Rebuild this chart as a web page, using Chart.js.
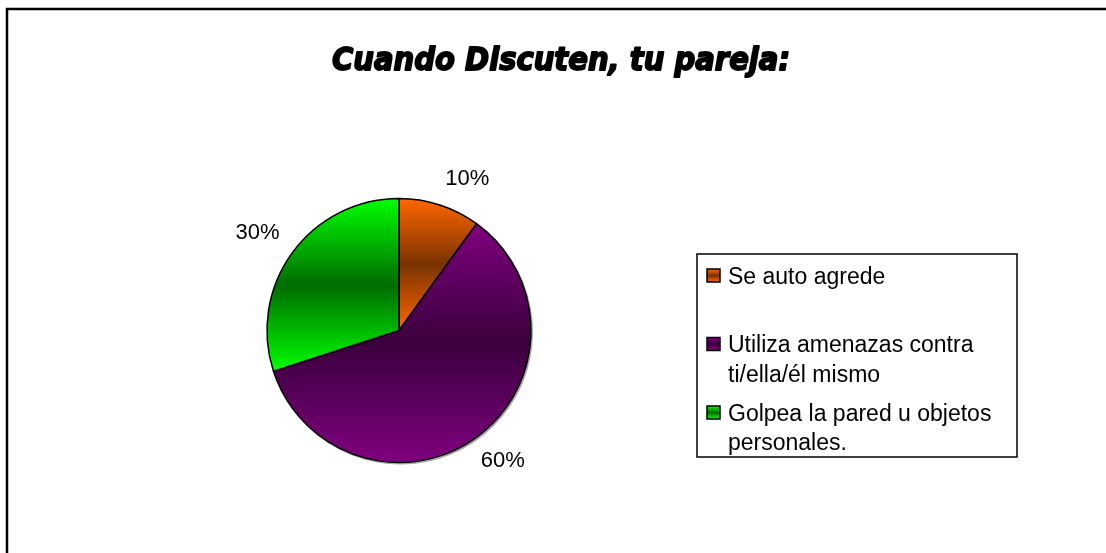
<!DOCTYPE html>
<html>
<head>
<meta charset="utf-8">
<style>
  html, body { margin: 0; padding: 0; background: #fff; }
  #wrap { width: 1106px; height: 553px; position: relative; }
</style>
<script src="https://cdn.jsdelivr.net/npm/chart.js@4.4.1/dist/chart.umd.min.js"></script>
</head>
<body>
<div id="wrap"><canvas id="pieChart" width="1106" height="553"></canvas></div>
<script>
'use strict';

const chartTitle = 'Cuando Discuten, tu pareja:';
const categories = ['Se auto agrede', 'Utiliza amenazas contra ti/ella/él mismo', 'Golpea la pared u objetos personales.'];
const shares = [10, 60, 30];
const pctLabels = ['10%', '60%', '30%'];

const lightColors = ['#ff6600', '#800080', '#00ff00'];
const darkColors = ['#7a3300', '#3a003c', '#006c00'];
const R = 132;

/**
 * Vertical gradient light -> dark -> light over the slice's own height.
 */
function sliceFill(ctx) {
  const chart = ctx.chart;
  const area = chart.chartArea;
  const i = ctx.dataIndex;
  if (ctx.type !== 'data' || !area) return lightColors[i || 0];
  const cx = (area.left + area.right) / 2;
  const cy = (area.top + area.bottom) / 2;
  const total = shares.reduce((a, b) => a + b, 0);
  let start = -Math.PI / 2;
  for (let k = 0; k < i; k++) start += shares[k] / total * Math.PI * 2;
  const end = start + shares[i] / total * Math.PI * 2;
  const ys = [cy, cy + R * Math.sin(start), cy + R * Math.sin(end)];
  [-Math.PI / 2, Math.PI / 2, Math.PI * 1.5].forEach(a => {
    if (a > start && a < end) ys.push(cy + R * Math.sin(a));
  });
  const top = Math.min(...ys), bottom = Math.max(...ys);
  return vGradient(chart.ctx, top, bottom, i);
}

function vGradient(c, top, bottom, i) {
  const g = c.createLinearGradient(0, top, 0, bottom);
  g.addColorStop(0, lightColors[i]);
  g.addColorStop(0.5, darkColors[i]);
  g.addColorStop(1, lightColors[i]);
  return g;
}

function wrapText(c, text, maxWidth) {
  const words = text.split(' ');
  const lines = [];
  let line = '';
  words.forEach(w => {
    const test = line ? line + ' ' + w : w;
    if (line && c.measureText(test).width > maxWidth) {
      lines.push(line);
      line = w;
    } else {
      line = test;
    }
  });
  if (line) lines.push(line);
  return lines;
}

const decorPlugin = {
  id: 'decor',
  beforeDraw(chart) {
    const c = chart.ctx;
    c.save();
    c.strokeStyle = '#000';
    c.lineWidth = 2.5;
    c.strokeRect(7, 9, 1300, 1300);

    // heavy italic title (Arial Black look-alike)
    c.fillStyle = '#000';
    c.font = 'italic bold 28px "DejaVu Sans", sans-serif';
    c.textAlign = 'center';
    c.textBaseline = 'alphabetic';
    const w = c.measureText(chartTitle).width;
    c.translate(561, 70);
    c.scale(458 / w, 1.12);
    c.lineJoin = 'round';
    c.lineWidth = 1.6;
    c.strokeText(chartTitle, 0, 0);
    c.fillText(chartTitle, 0, 0);
    c.restore();
  },
  beforeDatasetsDraw(chart) {
    // soft shadow behind the pie
    const el = chart.getDatasetMeta(0).data[0];
    if (!el) return;
    const c = chart.ctx;
    c.save();
    c.fillStyle = '#a8a8a8';
    c.beginPath();
    c.arc(el.x + 1.5, el.y + 1.5, el.outerRadius + 0.5, 0, Math.PI * 2);
    c.fill();
    c.restore();
  },
  afterDatasetsDraw(chart) {
    const c = chart.ctx;
    const meta = chart.getDatasetMeta(0);
    c.save();
    c.fillStyle = '#000';
    c.font = '22px "Liberation Sans", Arial, sans-serif';
    meta.data.forEach((el, i) => {
      const mid = (el.startAngle + el.endAngle) / 2;
      const cos = Math.cos(mid), sin = Math.sin(mid);
      const px = el.x + (el.outerRadius + 12) * cos;
      const py = el.y + (el.outerRadius + 16) * sin;
      c.textAlign = cos >= 0 ? 'left' : 'right';
      c.textBaseline = sin >= 0 ? 'top' : 'bottom';
      c.fillText(pctLabels[i], px - 6 * sin * cos, py);
    });

    // legend
    const box = { x: 697, y: 254, w: 320, h: 203 };
    c.strokeStyle = '#000';
    c.lineWidth = 1.5;
    c.strokeRect(box.x, box.y, box.w, box.h);
    c.font = '23px "Liberation Sans", Arial, sans-serif';
    c.textAlign = 'left';
    c.textBaseline = 'alphabetic';
    const slot = 68.5, lineH = 29.5;
    categories.forEach((label, i) => {
      const top = box.y + 13 + i * slot;
      const sx = box.x + 10, sy = top + 2, ss = 13;
      c.fillStyle = vGradient(c, sy, sy + ss, i);
      c.fillRect(sx, sy, ss, ss);
      c.strokeStyle = '#000';
      c.lineWidth = 1.5;
      c.strokeRect(sx, sy, ss, ss);
      c.fillStyle = '#000';
      wrapText(c, label, 284).forEach((ln, j) => {
        c.fillText(ln, box.x + 31, top + 16.5 + j * lineH);
      });
    });
    c.restore();
  }
};

new Chart(document.getElementById('pieChart').getContext('2d'), {
  type: 'pie',
  data: {
    labels: categories,
    datasets: [{
      data: shares,
      backgroundColor: sliceFill,
      borderColor: '#000',
      borderWidth: 1.5,
      radius: R
    }]
  },
  options: {
    responsive: false,
    animation: false,
    layout: { padding: { left: 267, right: 575, top: 198, bottom: 90 } },
    plugins: {
      legend: { display: false },
      title: { display: false },
      tooltip: { enabled: false }
    }
  },
  plugins: [decorPlugin]
});
</script>
</body>
</html>
